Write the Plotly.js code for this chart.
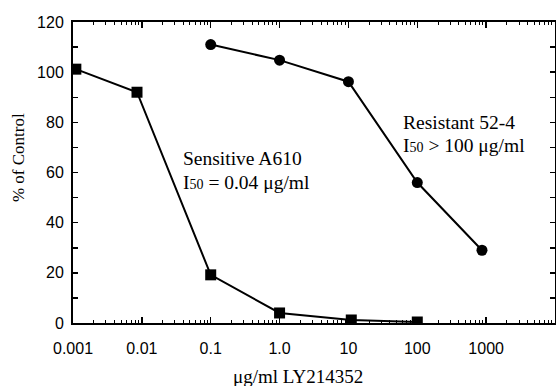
<!DOCTYPE html>
<html><head><meta charset="utf-8">
<script src="https://cdn.plot.ly/plotly-3.0.1.min.js"></script>
<style>html,body{margin:0;padding:0;background:#fff;}#c{width:556px;height:386px;}</style>
</head><body><div id="c"></div>
<script>
// Sensitive A610 (squares)
var sensX = [0.0011, 0.0085, 0.1, 1.0, 11, 100];
var sensY = [101.2, 92, 19.2, 4, 1.2, 0.4];
// Resistant 52-4 (circles)
var resX = [0.1, 1.0, 10, 100, 870];
var resY = [111, 104.8, 96.2, 56, 29];
// axis ticks
var xTickVals = [0.001, 0.01, 0.1, 1, 10, 100, 1000];
var xTickText = ['0.001', '0.01', '0.1', '1.0', '10', '100', '1000'];
var yTickVals = [0, 20, 40, 60, 80, 100, 120];

var xMinor = [];
for (var e = -3; e < 4; e++) for (var d = 2; d <= 9; d++) xMinor.push(d * Math.pow(10, e));

var tf = {family: 'Liberation Sans, Arial, sans-serif', size: 16, color: '#000'};
var serif = 'Liberation Serif, Times New Roman, serif';

var traces = [
  {x: sensX, y: sensY, mode: 'lines+markers', type: 'scatter', name: 'Sensitive A610',
   line: {color: '#000', width: 2}, marker: {symbol: 'square', size: 11, color: '#000'}},
  {x: resX, y: resY, mode: 'lines+markers', type: 'scatter', name: 'Resistant 52-4',
   line: {color: '#000', width: 2}, marker: {symbol: 'circle', size: 11, color: '#000'}}
];

function note(x, y, txt) {
  return {xref: 'paper', yref: 'paper', x: x, y: y, xanchor: 'left', yanchor: 'middle', showarrow: false,
    borderpad: 0, text: txt, font: {family: serif, size: 19.5, color: '#000'}};
}

var layout = {
  width: 556, height: 386,
  margin: {l: 73, r: 1, t: 22, b: 63},
  paper_bgcolor: '#fff', plot_bgcolor: '#fff',
  showlegend: false,
  xaxis: {type: 'log', range: [-3, 4], tickmode: 'array', tickvals: xTickVals, ticktext: xTickText,
    ticks: 'inside', ticklen: 6, tickwidth: 1.5, tickcolor: '#000', showline: true, linecolor: '#000', linewidth: 2,
    mirror: 'ticks', showgrid: false, zeroline: false, tickfont: tf, ticklabelstandoff: 10,
    minor: {tickmode: 'array', tickvals: xMinor, ticks: 'inside', ticklen: 3, tickwidth: 1, tickcolor: '#000', showgrid: false}},
  yaxis: {range: [0, 120], tickmode: 'array', tickvals: yTickVals,
    ticks: 'inside', ticklen: 5, tickwidth: 1.5, tickcolor: '#000', showline: true, linecolor: '#000', linewidth: 2,
    mirror: 'ticks', showgrid: false, zeroline: false, tickfont: tf, ticklabelstandoff: 4,
    minor: {dtick: 10, ticks: 'inside', ticklen: 5, tickwidth: 1.5, tickcolor: '#000', showgrid: false}},
  annotations: [
    note(0.226, 0.545, 'Sensitive A610'),
    note(0.226, 0.468, 'I<span style="font-size:14px">50</span> = 0.04 μg/ml'),
    note(0.6826, 0.666, 'Resistant 52-4'),
    note(0.6826, 0.589, 'I<span style="font-size:14px">50</span> &gt; 100 μg/ml'),
    {xref: 'paper', yref: 'paper', x: 0.467, y: -0.179, xanchor: 'center', yanchor: 'middle', showarrow: false,
     text: 'μg/ml LY214352', font: {family: serif, size: 19, color: '#000'}},
    {xref: 'paper', yref: 'paper', x: -0.114, y: 0.548, xanchor: 'center', yanchor: 'middle', showarrow: false,
     textangle: -90, text: '% of Control', font: {family: serif, size: 17, color: '#000'}}
  ]
};
Plotly.newPlot('c', traces, layout, {staticPlot: true, displayModeBar: false});
</script></body></html>
